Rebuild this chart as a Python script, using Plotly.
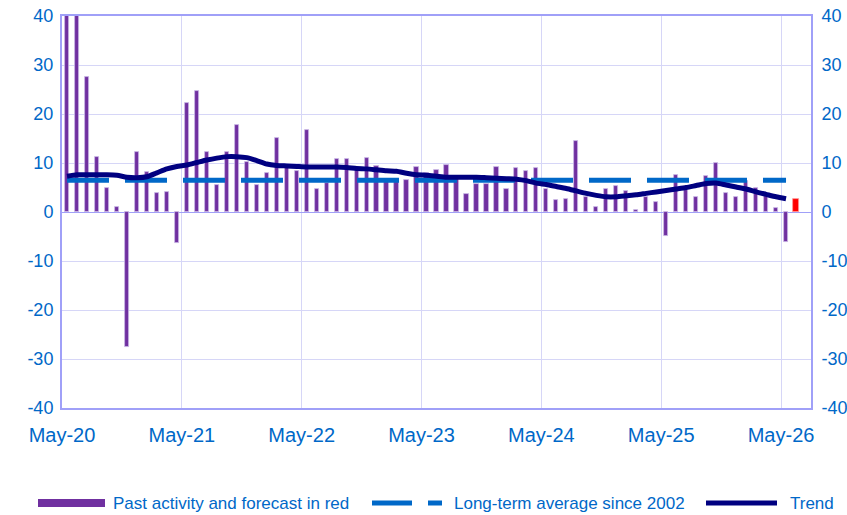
import plotly.graph_objects as go

# Monthly activity, May-20 onwards (last value is the forecast month)
activity = [
    55.0, 45.0, 27.5, 11.3, 5.0, 1.1, -27.6, 12.2, 8.2, 3.8, 4.0, -6.4,
    22.3, 24.6, 12.2, 5.6, 12.2, 17.8, 10.3, 5.6, 7.9, 15.1, 9.1, 8.3,
    16.8, 4.7, 6.0, 10.8, 10.8, 8.6, 11.1, 9.4, 6.5, 6.7, 6.6, 9.2,
    8.0, 8.6, 9.6, 7.0, 3.6, 5.7, 5.7, 9.2, 4.7, 8.9, 8.3, 8.9,
    4.7, 2.4, 2.7, 14.4, 3.0, 1.0, 4.7, 5.3, 4.3, 0.5, 3.0, 2.1,
    -4.8, 7.6, 4.5, 3.1, 7.3, 9.9, 3.8, 3.1, 6.3, 5.0, 3.3, 0.8,
    -6.1,
]
forecast = [2.6]

trend = [
    7.3, 7.6, 7.6, 7.6, 7.6, 7.5, 7.1, 7.0, 7.2, 8.0, 8.8, 9.3,
    9.6, 10.1, 10.6, 11.0, 11.3, 11.3, 11.1, 10.5, 9.8, 9.5, 9.4, 9.3,
    9.2, 9.2, 9.2, 9.2, 9.1, 8.9, 8.8, 8.6, 8.4, 8.3, 7.9, 7.6,
    7.5, 7.3, 7.1, 7.1, 7.1, 7.1, 7.0, 6.9, 6.8, 6.7, 6.4, 5.9,
    5.6, 5.2, 4.8, 4.3, 3.8, 3.4, 3.1, 3.1, 3.3, 3.5, 3.8, 4.1,
    4.4, 4.7, 5.0, 5.4, 5.8, 5.9, 5.5, 5.1, 4.7, 4.1, 3.6, 3.1,
    2.7,
]
long_term_avg = 6.5

tick_labels = ["May-20", "May-21", "May-22", "May-23", "May-24", "May-25", "May-26"]
y_ticks = [-40, -30, -20, -10, 0, 10, 20, 30, 40]

PURPLE = "#7030A0"
BLUE = "#0068C8"
NAVY = "#000080"
RED = "#FF0000"
GRID = "#D6D6F7"
FRAME = "#A0A0F8"
FONT = "Liberation Sans, Arial, sans-serif"

# month index -> bar centre on a numeric axis (one unit per month)
hist_x = [i + 0.5 for i in range(len(activity))]
fc_x = [len(activity) + i + 0.5 for i in range(len(forecast))]
n_months = len(activity) + len(forecast) + 1

fig = go.Figure()
fig.add_trace(go.Bar(
    x=hist_x, y=activity, width=0.42,
    marker=dict(color=PURPLE, line=dict(color="#C9B8E6", width=0.8)),
    showlegend=False, name="Past activity",
))
fig.add_trace(go.Bar(
    x=fc_x, y=forecast, width=0.65,
    marker=dict(color=RED, line=dict(color="#FF9A9A", width=0.8)),
    showlegend=False, name="Forecast",
))
fig.add_trace(go.Scatter(
    x=hist_x, y=[long_term_avg] * len(hist_x), mode="lines",
    line=dict(color=BLUE, width=5, dash="42px,16px"),
    showlegend=False, name="Long-term average since 2002",
))
fig.add_trace(go.Scatter(
    x=hist_x[:len(trend)], y=trend, mode="lines",
    line=dict(color=NAVY, width=5, shape="spline", smoothing=0.6),
    showlegend=False, name="Trend",
))
# carrier for the right-hand axis
fig.add_trace(go.Scatter(x=[None], y=[None], yaxis="y2", showlegend=False,
                         hoverinfo="skip"))

W, H = 847, 515
L, R, T, B = 62, 36, 16, 107


def px(xp, yp):
    """pixel position -> paper coordinates"""
    return (xp - L) / (W - L - R), (H - B - yp) / (H - T - B)


shapes = []
annotations = []
ly = 503
x0, y0 = px(38, ly - 4)
x1, y1 = px(105, ly + 4)
shapes.append(dict(type="rect", xref="paper", yref="paper", x0=x0, x1=x1,
                   y0=y1, y1=y0, fillcolor=PURPLE, line=dict(width=0)))
a0, yy = px(372, ly)
a1, _ = px(442, ly)
shapes.append(dict(type="line", xref="paper", yref="paper", x0=a0, x1=a1,
                   y0=yy, y1=yy, line=dict(color=BLUE, width=5, dash="40px,16px")))
b0, _ = px(706, ly)
b1, _ = px(777, ly)
shapes.append(dict(type="line", xref="paper", yref="paper", x0=b0, x1=b1,
                   y0=yy, y1=yy, line=dict(color=NAVY, width=5)))
for txt, xp in [("Past activity and forecast in red", 111),
                ("Long-term average since 2002", 452),
                ("Trend", 788)]:
    tx, _ = px(xp, ly)
    annotations.append(dict(text=txt, xref="paper", yref="paper", x=tx, y=yy,
                            xanchor="left", yanchor="middle", showarrow=False,
                            font=dict(family=FONT, size=17, color=BLUE)))

axis_y = dict(range=[-40, 40], tickvals=y_ticks, ticktext=[str(v) for v in y_ticks],
              showgrid=True, gridcolor=GRID,
              gridwidth=1, zeroline=True, zerolinecolor=FRAME, zerolinewidth=1,
              showline=True, linecolor=FRAME, linewidth=2, ticks="",
              automargin=False,
              tickfont=dict(family=FONT, size=18, color=BLUE), fixedrange=True)

fig.update_layout(
    width=W, height=H,
    margin=dict(l=L, r=R, t=T, b=B, autoexpand=False),
    paper_bgcolor="white", plot_bgcolor="white",
    barmode="overlay", bargap=0,
    xaxis=dict(range=[0, n_months], tickvals=[12 * k for k in range(len(tick_labels))],
               ticktext=tick_labels, showgrid=True, gridcolor=GRID, gridwidth=1,
               showline=True, linecolor=FRAME, linewidth=2, mirror=True,
               zeroline=False, ticks="", ticklabelstandoff=8, automargin=False,
               tickfont=dict(family=FONT, size=20, color=BLUE)),
    yaxis=dict(**axis_y, ticklabelstandoff=3),
    yaxis2=dict(**axis_y, overlaying="y", side="right", ticklabelstandoff=5),
    shapes=shapes, annotations=annotations,
)

fig.write_html("out.html")
